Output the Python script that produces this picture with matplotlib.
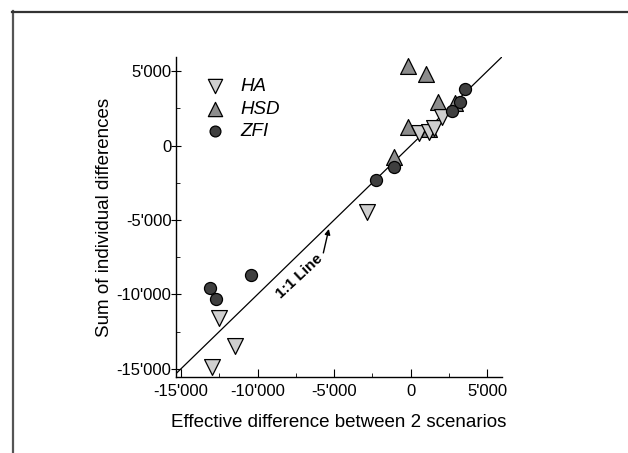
import matplotlib.pyplot as plt
from matplotlib.lines import Line2D
from matplotlib.ticker import MultipleLocator, FuncFormatter

plt.rcParams['font.family'] = ['Liberation Sans', 'DejaVu Sans']

# Sum of individual differences vs effective difference, per method
HA_X = [-12980, -12550, -11460, -2875, 570, 1200, 1550, 2050]
HA_Y = [-14890, -11580, -13485, -4435, 860, 900, 1150, 1890]

HSD_X = [-170, 1005, 1790, 2900, -150, 1220, -1100]
HSD_Y = [5330, 4790, 2915, 2850, 1220, 1130, -800]

ZFI_X = [3555, 3230, 2680, -1110, -2260, -10430, -13110, -12720]
ZFI_Y = [3830, 2940, 2335, -1460, -2310, -8725, -9600, -10310]

def thousands(v, pos):
    return f"{int(round(v)):,}".replace(',', "'")

fig = plt.figure(figsize=(6.28, 4.53), dpi=100)
ax = fig.add_axes([0.281, 0.168, 0.518, 0.706])

# 1:1 line
ax.axline((0, 0), slope=1, color='black', linewidth=0.9, zorder=1)

h_hsd = ax.scatter(HSD_X, HSD_Y, marker='^', s=130, facecolor='#8c8c8c',
                   edgecolor='black', linewidth=0.9, zorder=3)
h_ha = ax.scatter(HA_X, HA_Y, marker='v', s=130, facecolor='#cfcfcf',
                  edgecolor='black', linewidth=0.9, zorder=3)
h_zfi = ax.scatter(ZFI_X, ZFI_Y, marker='o', s=75, facecolor='#3f3f3f',
                   edgecolor='black', linewidth=0.9, zorder=4)

leg = ax.legend([h_ha, h_hsd, h_zfi], ['HA', 'HSD', 'ZFI'], loc='upper left',
                bbox_to_anchor=(0.02, 0.975), frameon=False, scatterpoints=1,
                prop={'style': 'italic', 'size': 13.5}, handletextpad=0.35,
                labelspacing=0.28, borderpad=0.2, markerscale=0.9)

ax.annotate('', xy=(-5346, -5604), xytext=(-5706, -7215),
            arrowprops=dict(arrowstyle='-|>', color='black', lw=1.0,
                            mutation_scale=8, shrinkA=0, shrinkB=0))
ax.text(-7275, -8758, '1:1 Line', rotation=43, ha='center', va='center',
        fontsize=11, fontweight='bold')

ax.set_xlim(-15300, 5950)
ax.set_ylim(-15550, 5950)
ax.xaxis.set_major_locator(MultipleLocator(5000))
ax.yaxis.set_major_locator(MultipleLocator(5000))
ax.xaxis.set_minor_locator(MultipleLocator(2500))
ax.yaxis.set_minor_locator(MultipleLocator(2500))
ax.xaxis.set_major_formatter(FuncFormatter(thousands))
ax.yaxis.set_major_formatter(FuncFormatter(thousands))

ax.spines['top'].set_visible(False)
ax.spines['right'].set_visible(False)
for s in ['left', 'bottom']:
    ax.spines[s].set_linewidth(1.0)
ax.tick_params(axis='x', which='major', direction='in', length=6, labelsize=12, pad=5)
ax.tick_params(axis='x', which='minor', direction='in', length=3)
ax.tick_params(axis='y', which='major', direction='inout', length=7, labelsize=12, pad=0)
ax.tick_params(axis='y', which='minor', direction='in', length=3)

ax.set_xlabel('Effective difference between 2 scenarios', fontsize=13.5, labelpad=11)
ax.set_ylabel('Sum of individual differences', fontsize=13.5, labelpad=3)

# page frame, left and top edges
fig.add_artist(Line2D([12.5 / 628, 12.5 / 628], [0, 1 - 11 / 453],
                      color='#555555', linewidth=1.6))
fig.add_artist(Line2D([12 / 628, 1], [1 - 11.5 / 453, 1 - 11.5 / 453],
                      color='#333333', linewidth=1.6))

fig.savefig('out.png', dpi=100)
